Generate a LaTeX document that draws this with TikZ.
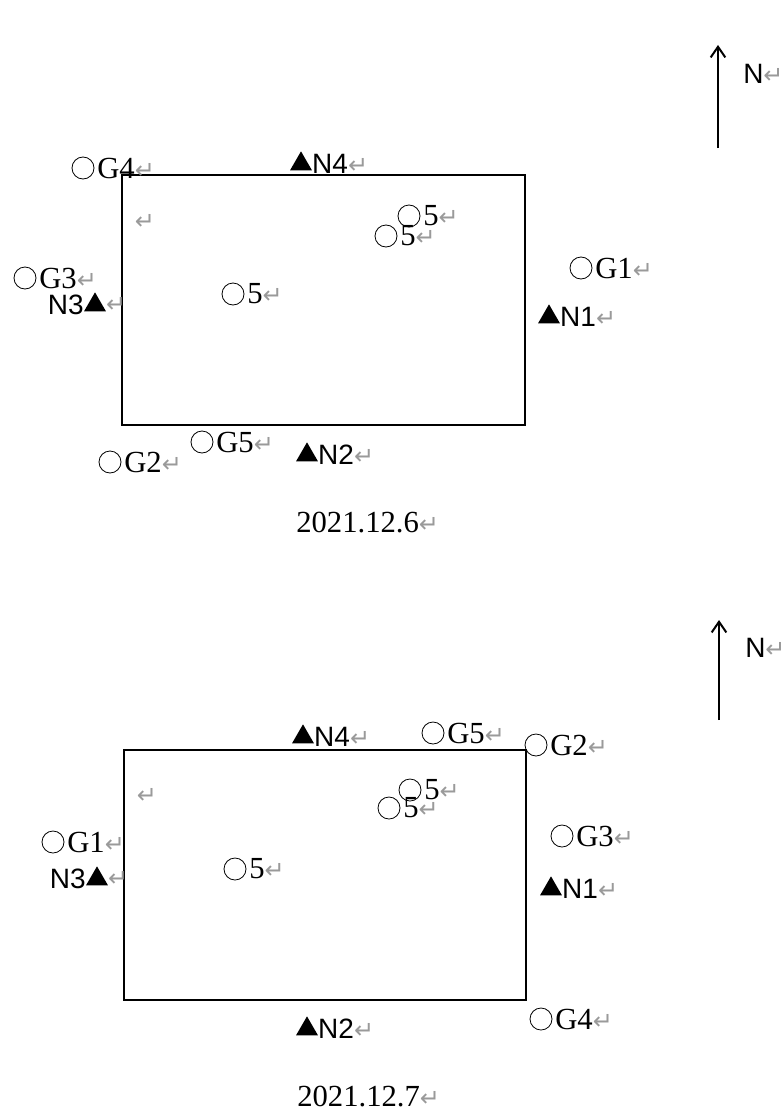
\documentclass[tikz,border=0pt]{standalone}
\usepackage{fontspec}
\setmainfont{Liberation Serif}
\newfontfamily\nfont{Liberation Sans}
\newfontfamily\arrowfont{DejaVu Sans}
\usetikzlibrary{positioning,arrows.meta,shapes.geometric}
\definecolor{markgray}{HTML}{9A9A9A}
\newcommand{\rmark}{{\color{markgray}\arrowfont\fontsize{18}{18}\selectfont ↵}}

\begin{document}
\begin{tikzpicture}[x=0.75pt, y=-0.75pt,
  gpt/.style={circle, draw, line width=0.6pt, inner sep=0pt, minimum size=16.5pt},
  npt/.style={regular polygon, regular polygon sides=3, fill=black, inner sep=0pt, minimum size=19pt},
  glbl/.style={inner sep=0pt, font=\fontsize{23}{26}\selectfont},
  nlbl/.style={inner sep=0pt, font=\nfont\fontsize{21}{24}\selectfont},
  northarrow/.style={-{Straight Barb[length=8pt,width=11pt]}, line width=1.5pt}]
\useasboundingbox (0,0) rectangle (783,1113);

% 2021.12.6
\draw[line width=1pt] (122,175) rectangle (525,425);
\coordinate (a1s) at (718,148);
\coordinate (a1e) at (718,45);
\draw[northarrow] (a1s) -- (a1e);
\node[nlbl, anchor=west] (a1n) at (743,74) {N\rmark};

\node[gpt] (g4) at (83,168) {};
\node[glbl, right=2pt of g4] (g4t) {G4\rmark};
\node[npt] (n4) at (301,164) {};
\node[nlbl, right=2.5pt of n4] (n4t) {N4\rmark};
\node[glbl] (e1) at (145,222) {\rmark};
\node[gpt] (f1) at (409,216) {};
\node[glbl, right=2pt of f1] (f1t) {5\rmark};
\node[gpt] (f2) at (386,236) {};
\node[glbl, right=2pt of f2] (f2t) {5\rmark};
\node[gpt] (g3) at (25,278) {};
\node[glbl, right=2pt of g3] (g3t) {G3\rmark};
\node[npt] (n3) at (95,305) {};
\node[nlbl, left=2.5pt of n3] (n3t) {N3};
\node[glbl, right=2.5pt of n3] (n3r) {\rmark};
\node[gpt] (f3) at (233,294) {};
\node[glbl, right=2pt of f3] (f3t) {5\rmark};
\node[gpt] (g1) at (581,268) {};
\node[glbl, right=2pt of g1] (g1t) {G1\rmark};
\node[npt] (n1) at (549,317) {};
\node[nlbl, right=2.5pt of n1] (n1t) {N1\rmark};
\node[gpt] (g5) at (202,442) {};
\node[glbl, right=2pt of g5] (g5t) {G5\rmark};
\node[gpt] (g2) at (110,462) {};
\node[glbl, right=2pt of g2] (g2t) {G2\rmark};
\node[npt] (n2) at (307,455) {};
\node[nlbl, right=2.5pt of n2] (n2t) {N2\rmark};
\node[glbl, anchor=west] (d1) at (296,523) {2021.12.6\rmark};

% 2021.12.7
\draw[line width=1pt] (124,750) rectangle (526,1000);
\coordinate (b1s) at (719,720);
\coordinate (b1e) at (719,620);
\draw[northarrow] (b1s) -- (b1e);
\node[nlbl, anchor=west] (b1n) at (745,648) {N\rmark};

\node[npt] (m4) at (303,737) {};
\node[nlbl, right=2.5pt of m4] (m4t) {N4\rmark};
\node[gpt] (h5) at (433,733) {};
\node[glbl, right=2pt of h5] (h5t) {G5\rmark};
\node[gpt] (h2) at (536,745) {};
\node[glbl, right=2pt of h2] (h2t) {G2\rmark};
\node[glbl] (e2) at (147,796) {\rmark};
\node[gpt] (k1) at (410,790) {};
\node[glbl, right=2pt of k1] (k1t) {5\rmark};
\node[gpt] (k2) at (389,808) {};
\node[glbl, right=2pt of k2] (k2t) {5\rmark};
\node[gpt] (h1) at (53,842) {};
\node[glbl, right=2pt of h1] (h1t) {G1\rmark};
\node[npt] (m3) at (97,879) {};
\node[nlbl, left=2.5pt of m3] (m3t) {N3};
\node[glbl, right=2.5pt of m3] (m3r) {\rmark};
\node[gpt] (k3) at (235,869) {};
\node[glbl, right=2pt of k3] (k3t) {5\rmark};
\node[gpt] (h3) at (562,836) {};
\node[glbl, right=2pt of h3] (h3t) {G3\rmark};
\node[npt] (m1) at (551,889) {};
\node[nlbl, right=2.5pt of m1] (m1t) {N1\rmark};
\node[npt] (m2) at (307,1029) {};
\node[nlbl, right=2.5pt of m2] (m2t) {N2\rmark};
\node[gpt] (h4) at (541,1019) {};
\node[glbl, right=2pt of h4] (h4t) {G4\rmark};
\node[glbl, anchor=west] (d2) at (297,1097) {2021.12.7\rmark};
\end{tikzpicture}
\end{document}
